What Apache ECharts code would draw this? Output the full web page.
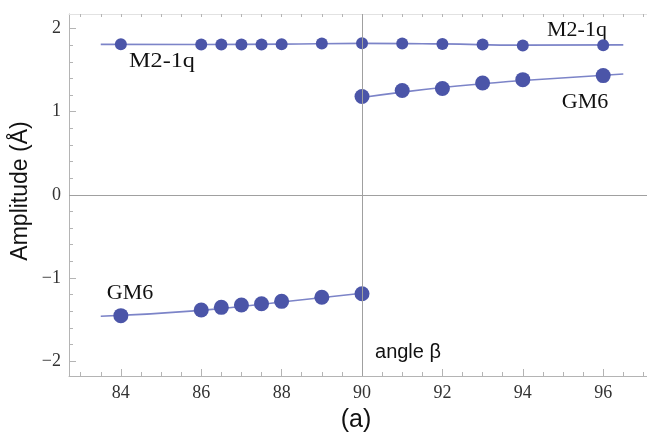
<!DOCTYPE html>
<html>
<head>
<meta charset="utf-8">
<script src="https://cdn.jsdelivr.net/npm/echarts@6/dist/echarts.min.js"></script>
<style>
html,body{margin:0;padding:0;background:#fff;}
#chart{width:647px;height:435px;}
</style>
</head>
<body>
<div id="chart"></div>
<script>
// ---- data ----
var m2Angles = [84, 86, 86.5, 87, 87.5, 88, 89, 90, 91, 92, 93, 94, 96];
var m2Amp    = [1.811, 1.807, 1.807, 1.808, 1.808, 1.810, 1.820, 1.823, 1.820, 1.815, 1.807, 1.795, 1.800];

var gm6NegAngles = [84, 86, 86.5, 87, 87.5, 88, 89, 90];
var gm6NegAmp    = [-1.454, -1.386, -1.354, -1.326, -1.310, -1.282, -1.233, -1.190];
var gm6PosAngles = [90, 91, 92, 93, 94, 96];
var gm6PosAmp    = [1.182, 1.254, 1.278, 1.345, 1.385, 1.434];

// fitted curves
var m2FitX = [83.5, 86, 88, 90, 92, 94, 96.5];
var m2FitY = [1.810, 1.808, 1.813, 1.822, 1.815, 1.800, 1.803];
var gm6NegFitX = [83.5, 86, 88, 90];
var gm6NegFitY = [-1.462, -1.390, -1.290, -1.185];
var gm6PosFitX = [90, 91, 92, 93, 94, 96.5];
var gm6PosFitY = [1.170, 1.235, 1.290, 1.335, 1.375, 1.454];

// axes
var xMin = 82.71, xMax = 97.09;
var yMin = -2.18, yMax = 2.175;
var xMajorTicks = [84, 86, 88, 90, 92, 94, 96];
var xMinorTicks = [83, 83.5, 84, 84.5, 85, 85.5, 86, 86.5, 87, 87.5, 88, 88.5, 89, 89.5, 90, 90.5, 91, 91.5, 92, 92.5, 93, 93.5, 94, 94.5, 95, 95.5, 96, 96.5, 97];
var yMajorTicks = [-2, -1, 0, 1, 2];
var yMinorTicks = [-2, -1.8, -1.6, -1.4, -1.2, -1, -0.8, -0.6, -0.4, -0.2, 0, 0.2, 0.4, 0.6, 0.8, 1, 1.2, 1.4, 1.6, 1.8, 2];

var xTitle = 'angle β';
var yTitle = 'Amplitude (Å)';
var panelLabel = '(a)';
var labelM2 = 'M2-1q';
var labelGM6 = 'GM6';

function zip(xs, ys){ return xs.map(function(x,i){ return [x, ys[i]]; }); }

var dotColor = '#4b55a8';
var fitColor = '#7c84c8';
var frameColor = '#b4b4b4';
var serif = '"Liberation Serif", "Times New Roman", serif';
var sans = '"Liberation Sans", Arial, sans-serif';

var chart = echarts.init(document.getElementById('chart'));
chart.setOption({
  animation: false,
  backgroundColor: '#ffffff',
  grid: { left: 69, top: 14, width: 578, height: 362, containLabel: false, outerBoundsMode: 'none' },
  xAxis: [
    { type: 'value', position: 'bottom', min: xMin, max: xMax,
      axisLine: { show: true, onZero: false, lineStyle: { color: frameColor, width: 1 } },
      axisTick: { show: true, inside: true, length: 7, customValues: xMajorTicks, lineStyle: { color: frameColor } },
      axisLabel: { show: true, customValues: xMajorTicks, margin: 8, fontFamily: serif, fontSize: 18, color: '#333' },
      splitLine: { show: false } },
    { type: 'value', position: 'bottom', min: xMin, max: xMax,
      axisLine: { show: false, onZero: false },
      axisTick: { show: true, inside: true, length: 4, customValues: xMinorTicks, lineStyle: { color: frameColor } },
      axisLabel: { show: false },
      splitLine: { show: false } },
    { type: 'value', position: 'top', min: xMin, max: xMax,
      axisLine: { show: true, onZero: false, lineStyle: { color: '#e2e2e2', width: 1 } },
      axisTick: { show: true, inside: true, length: 3, customValues: xMinorTicks, lineStyle: { color: frameColor } },
      axisLabel: { show: false },
      splitLine: { show: false } }
  ],
  yAxis: [
    { type: 'value', position: 'left', min: yMin, max: yMax,
      axisLine: { show: true, onZero: false, lineStyle: { color: frameColor, width: 1 } },
      axisTick: { show: true, inside: true, length: 7, customValues: yMajorTicks, lineStyle: { color: frameColor } },
      axisLabel: { show: true, customValues: yMajorTicks, margin: 8, fontFamily: serif, fontSize: 18, color: '#333',
        formatter: function(v){ return String(v).replace('-', '\u2212'); } },
      splitLine: { show: false } },
    { type: 'value', position: 'left', min: yMin, max: yMax,
      axisLine: { show: false, onZero: false },
      axisTick: { show: true, inside: true, length: 4, customValues: yMinorTicks, lineStyle: { color: frameColor } },
      axisLabel: { show: false },
      splitLine: { show: false } }
  ],
  series: [
    { type: 'line', data: zip(m2FitX, m2FitY), smooth: true, symbol: 'none', silent: true,
      lineStyle: { color: fitColor, width: 1.6 }, z: 2,
      markLine: { silent: true, symbol: 'none', label: { show: false },
        lineStyle: { color: '#a0a0a0', width: 1, type: 'solid' },
        data: [ { xAxis: 90 }, { yAxis: 0 } ] } },
    { type: 'line', data: zip(gm6NegFitX, gm6NegFitY), smooth: true, symbol: 'none', silent: true,
      lineStyle: { color: fitColor, width: 1.6 }, z: 2 },
    { type: 'line', data: zip(gm6PosFitX, gm6PosFitY), smooth: true, symbol: 'none', silent: true,
      lineStyle: { color: fitColor, width: 1.6 }, z: 2 },
    { type: 'scatter', data: zip(m2Angles, m2Amp), symbolSize: 12, itemStyle: { color: dotColor, opacity: 1 }, z: 3 },
    { type: 'scatter', data: zip(gm6NegAngles, gm6NegAmp), symbolSize: 15, itemStyle: { color: dotColor, opacity: 1 }, z: 3 },
    { type: 'scatter', data: zip(gm6PosAngles, gm6PosAmp), symbolSize: 15, itemStyle: { color: dotColor, opacity: 1 }, z: 3 }
  ],
  graphic: [
    { type: 'text', x: 162, y: 61, style: { text: labelM2, font: '22px ' + serif, fill: '#111', align: 'center', verticalAlign: 'middle' }, scaleX: 1.1 },
    { type: 'text', x: 577, y: 30, style: { text: labelM2, font: '22px ' + serif, fill: '#111', align: 'center', verticalAlign: 'middle' } },
    { type: 'text', x: 585, y: 102, style: { text: labelGM6, font: '22px ' + serif, fill: '#111', align: 'center', verticalAlign: 'middle' } },
    { type: 'text', x: 130, y: 293, style: { text: labelGM6, font: '22px ' + serif, fill: '#111', align: 'center', verticalAlign: 'middle' } },
    { type: 'text', x: 408, y: 352, style: { text: xTitle, font: '20px ' + sans, fill: '#111', align: 'center', verticalAlign: 'middle' } },
    { type: 'text', x: 356, y: 420, style: { text: panelLabel, font: '25px ' + sans, fill: '#111', align: 'center', verticalAlign: 'middle' } },
    { type: 'text', x: 21, y: 191, rotation: Math.PI / 2, style: { text: yTitle, font: '23px ' + sans, fill: '#111', align: 'center', verticalAlign: 'middle' } }
  ]
});
</script>
</body>
</html>
